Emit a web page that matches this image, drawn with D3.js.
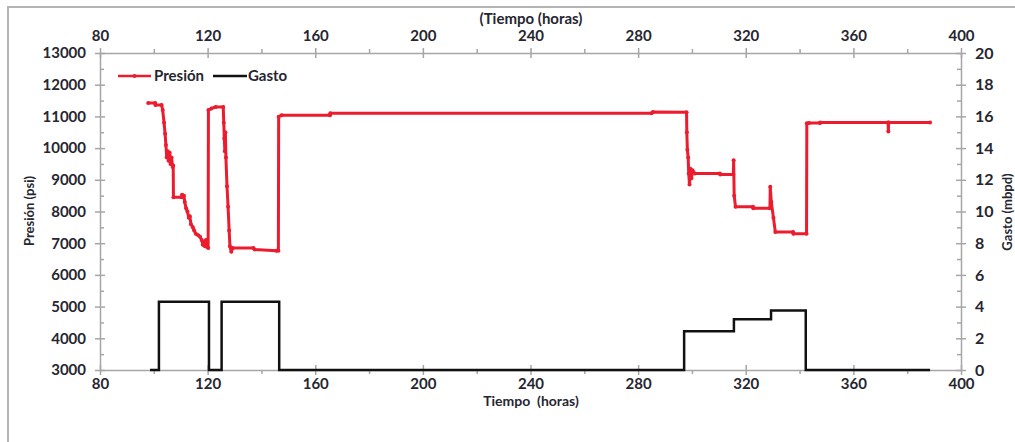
<!DOCTYPE html>
<html>
<head>
<meta charset="utf-8">
<script src="https://cdn.jsdelivr.net/npm/d3@7"></script>
<style>
	body { margin: 0; background: #fff; }
	svg text { font-family: Lato, "Open Sans", sans-serif; font-weight: 700; fill: #262630; }
</style>
</head>
<body>
<div id="chart"></div>
<script>

// Tiempo (horas) vs Presión (psi)
var presTime = [97.9, 100.5, 100.6, 102.9, 103.3, 103.8, 104.2, 104.5, 104.8, 105.2, 105.5, 105.9, 106.2, 106.6, 107.0, 107.2, 107.3,
	110.3, 110.5, 111.2, 111.5, 112.0, 112.5, 113.0, 113.4, 113.8, 114.5, 115.0, 115.6, 116.5, 117.2, 117.8, 118.2, 118.6, 119.0, 119.4, 119.8, 120.2,
	120.3, 121.4, 123.0, 125.8, 126.0, 126.2, 126.4, 126.6, 126.8, 127.2, 127.6, 128.0, 128.3, 128.8, 129.3, 137.0, 137.5, 145.5, 146.3,
	146.4, 147.5, 165.5, 165.6, 285.0, 285.5, 298.0,
	298.1, 298.3, 298.6, 298.8, 299.1, 299.4, 299.8, 300.2, 301.1, 310.4, 310.5, 315.4, 315.5, 315.7, 316.2, 322.7, 322.8, 329.0,
	329.1, 329.5, 330.3, 331.0, 337.6, 337.7, 342.6, 342.7, 343.5, 347.6, 347.7, 372.9, 373.0, 373.1, 388.5]

var presValue = [11420, 11420, 11360, 11360, 11200, 10800, 10450, 10100, 9700, 9900, 9600, 9850, 9500, 9700, 9400, 9450, 8450,
	8450, 8530, 8500, 8300, 8100, 8000, 7800, 7850, 7600, 7500, 7400, 7300, 7250, 7200, 7100, 6950, 7050, 6900, 7100, 6880, 6850,
	11200, 11250, 11300, 11300, 10800, 10300, 9900, 10500, 9700, 8800, 8150, 7400, 6900, 6730, 6850, 6850, 6800, 6760, 6760,
	10990, 11040, 11040, 11100, 11100, 11140, 11130,
	10500, 9950, 9700, 9200, 8850, 9350, 9050, 9300, 9200, 9200, 9170, 9170, 9620, 8500, 8150, 8150, 8100, 8100,
	8780, 8300, 7800, 7350, 7350, 7300, 7300, 10780, 10790, 10790, 10810, 10810, 10520, 10810, 10810]

// Tiempo (horas) vs Gasto (mbpd), escalones
var gastoTime = [98.6, 101.9, 120.5, 125.2, 146.6, 297.1, 315.6, 329.4, 342.3, 388.5]

var gastoValue = [0, 4.3, 0, 4.3, 0, 2.45, 3.2, 3.75, 0, 0]

var timeTicks = [80, 120, 160, 200, 240, 280, 320, 360, 400]
var timeMinor = [100, 140, 180, 220, 260, 300, 340, 380]
var presTicks = [3000, 4000, 5000, 6000, 7000, 8000, 9000, 10000, 11000, 12000, 13000]
var presMinor = [3500, 4500, 5500, 6500, 7500, 8500, 9500, 10500, 11500, 12500]
var gastoTicks = [0, 2, 4, 6, 8, 10, 12, 14, 16, 18, 20]
var gastoMinor = [1, 3, 5, 7, 9, 11, 13, 15, 17, 19]

var width = 1015
var height = 442

var svg = d3.select("#chart").append("svg")
	.attr("width", width)
	.attr("height", height)

// frame
svg.append("rect")
	.attr("x", 8)
	.attr("y", 7)
	.attr("width", 1100)
	.attr("height", 600)
	.attr("fill", "none")
	.attr("stroke", "#b4b4b4")
	.attr("stroke-width", 2)

var x = d3.scaleLinear().domain([80, 400]).range([100, 961])
var yP = d3.scaleLinear().domain([3000, 13000]).range([370, 53])
var yG = d3.scaleLinear().domain([0, 20]).range([370, 53])

var axisColor = "#a6a6a6"

function styleAxis(g, horizontal, size) {
	g.select(".domain").attr("stroke", axisColor).attr("stroke-width", 1.5)
	g.selectAll(".tick line").remove()
	g.selectAll(".tick").append("line")
		.attr("stroke", axisColor)
		.attr("stroke-width", 1.5)
		.attr(horizontal ? "y1" : "x1", -5)
		.attr(horizontal ? "y2" : "x2", 5)
	g.selectAll(".tick text").style("font-size", size + "px")
}

function drawMinor(tx, axis, values) {
	svg.append("g").attr("transform", tx)
		.call(axis.tickValues(values).tickSize(4).tickFormat(""))
		.call(g => g.select(".domain").remove())
		.call(g => g.selectAll("line").attr("stroke", axisColor).attr("stroke-width", 1.5))
}

// bottom axis
var axisB = svg.append("g").attr("transform", "translate(0,370)")
axisB.call(d3.axisBottom(x).tickValues(timeTicks).tickSize(0).tickPadding(8))
styleAxis(axisB, true, 15)
drawMinor("translate(0,370)", d3.axisBottom(x), timeMinor)

// top axis
var axisT = svg.append("g").attr("transform", "translate(0,53)")
axisT.call(d3.axisTop(x).tickValues(timeTicks).tickSize(0).tickPadding(12))
styleAxis(axisT, true, 15)
drawMinor("translate(0,53)", d3.axisTop(x), timeMinor)

// left axis
var axisL = svg.append("g").attr("transform", "translate(100,0)")
axisL.call(d3.axisLeft(yP).tickValues(presTicks).tickFormat(d3.format("d")).tickSize(0).tickPadding(14))
styleAxis(axisL, false, 15)
drawMinor("translate(100,0)", d3.axisRight(yP), presMinor)

// right axis
var axisR = svg.append("g").attr("transform", "translate(961,0)")
axisR.call(d3.axisRight(yG).tickValues(gastoTicks).tickSize(0).tickPadding(14))
styleAxis(axisR, false, 16)
drawMinor("translate(961,0)", d3.axisLeft(yG), gastoMinor)

// axis titles
svg.append("text")
	.attr("x", 531)
	.attr("y", 24)
	.attr("text-anchor", "middle")
	.style("font-size", "15px")
	.text("(Tiempo (horas)")

svg.append("text")
	.attr("x", 531)
	.attr("y", 406)
	.attr("text-anchor", "middle")
	.style("font-size", "14px")
	.style("white-space", "pre")
	.text("Tiempo  (horas)")

svg.append("text")
	.attr("transform", "translate(34,211) rotate(-90)")
	.attr("text-anchor", "middle")
	.style("font-size", "13px")
	.text("Presión (psi)")

svg.append("text")
	.attr("transform", "translate(1012,212) rotate(-90)")
	.attr("text-anchor", "middle")
	.style("font-size", "13px")
	.text("Gasto (mbpd)")

// series
var presData = presTime.map((t, i) => ({ t: t, v: presValue[i] }))
var gastoData = gastoTime.map((t, i) => ({ t: t, v: gastoValue[i] }))

var presLine = d3.line()
	.x(d => x(d.t))
	.y(d => yP(d.v))

var gastoLine = d3.line()
	.x(d => x(d.t))
	.y(d => yG(d.v))
	.curve(d3.curveStepAfter)

var red = "#ec1c2e"

svg.append("path")
	.datum(gastoData)
	.attr("d", gastoLine)
	.attr("fill", "none")
	.attr("stroke", "#111")
	.attr("stroke-width", 2.5)

svg.append("path")
	.datum(presData)
	.attr("d", presLine)
	.attr("fill", "none")
	.attr("stroke", red)
	.attr("stroke-width", 3)
	.attr("stroke-linejoin", "round")

svg.append("g").selectAll("circle")
	.data(presData)
	.enter()
	.append("circle")
	.attr("cx", d => x(d.t))
	.attr("cy", d => yP(d.v))
	.attr("r", 2)
	.attr("fill", red)

// legend
var legend = svg.append("g")

legend.append("line")
	.attr("x1", 118).attr("x2", 151)
	.attr("y1", 76).attr("y2", 76)
	.attr("stroke", red)
	.attr("stroke-width", 2.5)

legend.append("circle")
	.attr("cx", 134.5).attr("cy", 76)
	.attr("r", 2)
	.attr("fill", red)

legend.append("text")
	.attr("x", 154)
	.attr("y", 81)
	.style("font-size", "15px")
	.text("Presión")

legend.append("line")
	.attr("x1", 213).attr("x2", 247)
	.attr("y1", 76).attr("y2", 76)
	.attr("stroke", "#111")
	.attr("stroke-width", 2.5)

legend.append("text")
	.attr("x", 248)
	.attr("y", 81)
	.style("font-size", "15px")
	.text("Gasto")

</script>
</body>
</html>
